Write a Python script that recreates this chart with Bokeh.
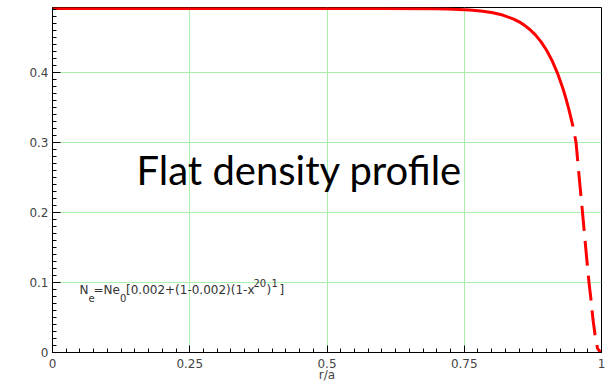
import numpy as np
from bokeh.plotting import figure
from bokeh.models import Range1d, FixedTicker, Label
from bokeh.embed import file_html
from bokeh.resources import INLINE

# ---- data ----
r_solid = [0.0, 0.1, 0.2, 0.3, 0.4, 0.5, 0.6, 0.7, 0.72, 0.74, 0.76, 0.78,
           0.80, 0.82, 0.84, 0.85, 0.86, 0.87, 0.88, 0.89, 0.90, 0.91, 0.92,
           0.93, 0.935, 0.94, 0.945, 0.948]
ne_solid = [0.491, 0.491, 0.491, 0.491, 0.491, 0.491, 0.491, 0.4906, 0.4902,
            0.4897, 0.4890, 0.4875, 0.4853, 0.4817, 0.4760, 0.4720, 0.4670,
            0.4608, 0.4530, 0.4434, 0.4314, 0.4167, 0.3985, 0.3762, 0.3632,
            0.3488, 0.3329, 0.3226]
r_dash = [0.948, 0.9536, 0.9594, 0.9654, 0.9712, 0.9772, 0.9809, 0.9845,
          0.9883, 0.9927, 0.9965, 1.0]
ne_dash = [0.3226, 0.300, 0.250, 0.200, 0.150, 0.100, 0.075, 0.047, 0.025,
           0.006, 0.002, 0.0005]

x_ticks = [0, 0.25, 0.5, 0.75, 1]
x_tick_labels = ["0", "0.25", "0.5", "0.75", "1"]
y_ticks = [0, 0.1, 0.2, 0.3, 0.4]
y_tick_labels = ["0", "0.1", "0.2", "0.3", "0.4"]
x_title = "r/a"
big_text = "Flat density profile"
# formula pieces: (text, role) role: m = main, b = subscript, p = superscript
formula = [("N", "m"), ("e", "b"), ("=Ne", "m"), ("0", "b"),
           ("[0.002+(1-0.002)(1-x", "m"), ("20", "p"), (")", "m"), ("1", "p"), ("]", "m")]

# ---- layout helpers (pixel geometry of the frame) ----
LEFT, RIGHT, TOP, BOTTOM = 52, 7, 7, 31
W, H = 608, 384
frame_w = W - LEFT - RIGHT
frame_h = H - TOP - BOTTOM
Y_END = 0.4925
px_per_y = frame_h / Y_END


def dx(px):
    return (px - LEFT) / frame_w


def dy(py):
    return (H - BOTTOM - py) / px_per_y


p = figure(width=W, height=H, output_backend="svg", toolbar_location=None,
           x_range=Range1d(0, 1), y_range=Range1d(0, Y_END),
           min_border_left=LEFT, min_border_right=RIGHT,
           min_border_top=TOP, min_border_bottom=BOTTOM)
p.background_fill_color = "white"
p.border_fill_color = "white"
p.outline_line_color = "black"
p.outline_line_width = 1

grid_color = "#a9f0a9"
p.xgrid.ticker = FixedTicker(ticks=x_ticks)
p.ygrid.ticker = FixedTicker(ticks=y_ticks)
for g in (p.xgrid, p.ygrid):
    g.grid_line_color = grid_color
    g.grid_line_width = 1

minor_x = [round(i * 0.025, 3) for i in range(41)]
minor_y = [round(i * 0.01, 3) for i in range(50)]
p.xaxis.ticker = FixedTicker(ticks=x_ticks, minor_ticks=minor_x)
p.yaxis.ticker = FixedTicker(ticks=y_ticks, minor_ticks=minor_y)
p.xaxis.major_label_overrides = {t: l for t, l in zip(x_ticks, x_tick_labels)}
p.yaxis.major_label_overrides = {t: l for t, l in zip(y_ticks, y_tick_labels)}

for ax in (p.xaxis, p.yaxis):
    ax.axis_line_color = "black"
    ax.axis_line_width = 1
    ax.major_tick_line_color = "black"
    ax.minor_tick_line_color = "black"
    ax.major_tick_out = 0
    ax.minor_tick_out = 0
    ax.minor_tick_in = 4
    ax.major_label_text_font = "DejaVu Sans"
    ax.major_label_text_font_size = "12px"
    ax.major_label_text_color = "#444444"
p.xaxis.major_tick_in = 7
p.yaxis.major_tick_in = 8
p.xaxis.major_label_standoff = 6
p.yaxis.major_label_standoff = 4

p.xaxis.axis_label = x_title
p.xaxis.axis_label_text_font = "DejaVu Sans"
p.xaxis.axis_label_text_font_size = "12px"
p.xaxis.axis_label_text_font_style = "normal"
p.xaxis.axis_label_text_color = "#444444"
p.xaxis.axis_label_standoff = -3

p.line(r_solid, ne_solid, line_color="red", line_width=3)
p.line(r_dash, ne_dash, line_color="red", line_width=3,
       line_dash="25 10", line_dash_offset=25)

# text offsets: labels render with a centre-like baseline, so shift up ~0.37 em
p.add_layout(Label(x=dx(136), y=dy(185 - 0.37 * 40), text=big_text, text_font="Lato",
                   text_font_size="40px", text_color="black",
                   text_baseline="alphabetic"))

xs = [79, 88, 93, 119.5, 125.5, 253, 266, 271, 279]
base = {"m": 295, "b": 302.5, "p": 287}
size = {"m": 12, "b": 10, "p": 10}
for (txt, role), px in zip(formula, xs):
    p.add_layout(Label(x=dx(px), y=dy(base[role] - 0.37 * size[role]), text=txt,
                       text_font="DejaVu Sans", text_font_size=f"{size[role]}px",
                       text_color="#333333", text_baseline="alphabetic"))

open("out.html", "w").write(file_html(p, INLINE))
